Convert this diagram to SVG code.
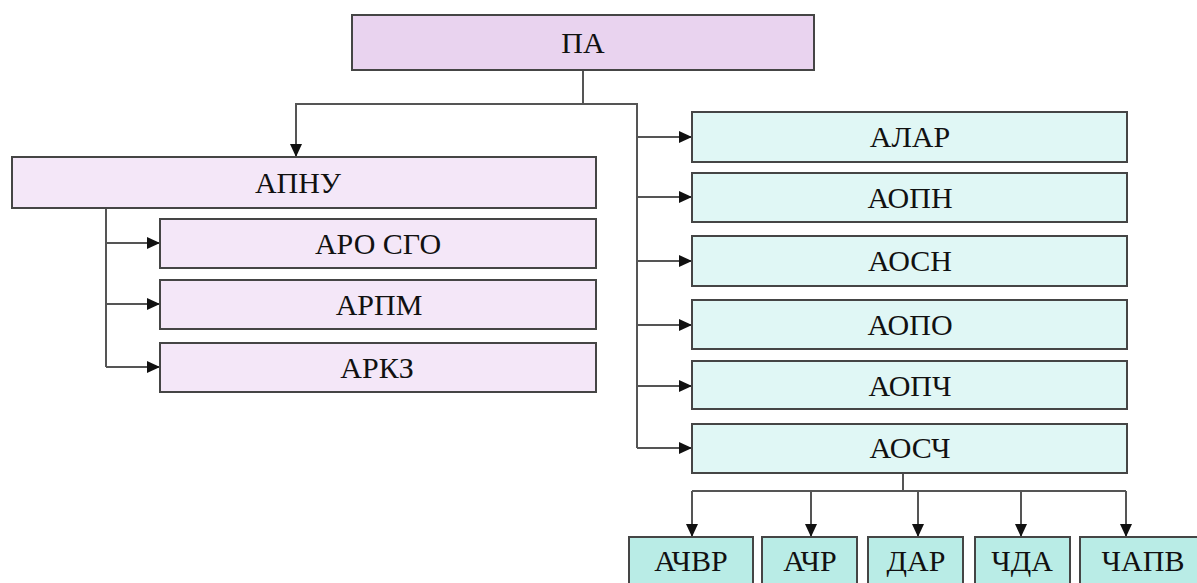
<svg xmlns="http://www.w3.org/2000/svg" width="1197" height="583" viewBox="0 0 1197 583">
  <defs>
    <marker id="arrow" markerWidth="14" markerHeight="12" refX="13" refY="6" orient="auto" markerUnits="userSpaceOnUse">
      <path d="M0,0 L13,6 L0,12 Z" fill="#111"/>
    </marker>
  </defs>
  <style>
    .box { stroke: #454545; stroke-width: 2; }
    .root { fill: #e9d3ef; }
    .lilac { fill: #f4e7f8; }
    .mint { fill: #e0f7f5; }
    .teal { fill: #b9ece6; }
    .wire { fill: none; stroke: #555; stroke-width: 2; }
  </style>
  <rect width="1197" height="583" fill="#ffffff"/>

  <!-- connectors -->
  <g id="connectors" class="wire">
    <path d="M583,70 V104 M295,104 H637 V448"/>
    <path d="M106,208 V367"/>
    <path d="M903,473 V491 M692,491 H1126"/>
    <g marker-end="url(#arrow)">
      <path d="M296,104 V157"/>
      <path d="M106,243 H160"/>
      <path d="M106,304 H160"/>
      <path d="M106,367 H160"/>
      <path d="M637,137 H692"/>
      <path d="M637,197 H692"/>
      <path d="M637,261 H692"/>
      <path d="M637,325 H692"/>
      <path d="M637,386 H692"/>
      <path d="M637,448 H692"/>
      <path d="M692,491 V537"/>
      <path d="M811,491 V537"/>
      <path d="M918,491 V537"/>
      <path d="M1021,491 V537"/>
      <path d="M1126,491 V537"/>
    </g>
  </g>

  <!-- nodes -->
  <g font-family="'Liberation Serif', 'Times New Roman', serif" font-size="30" text-anchor="middle">
    <g id="node-pa">
      <rect class="box root" x="352" y="15" width="462" height="55"/>
      <text x="583" y="53" fill="#111">ПА</text>
    </g>

    <g id="node-apnu">
      <rect class="box lilac" x="12" y="157" width="584" height="51"/>
      <text x="298" y="193" fill="#111">АПНУ</text>
    </g>
    <g id="node-aro-sgo">
      <rect class="box lilac" x="160" y="219" width="436" height="49"/>
      <text x="378" y="254" fill="#111">АРО СГО</text>
    </g>
    <g id="node-arpm">
      <rect class="box lilac" x="160" y="280" width="436" height="49"/>
      <text x="379" y="315" fill="#111">АРПМ</text>
    </g>
    <g id="node-arkz">
      <rect class="box lilac" x="160" y="343" width="436" height="49"/>
      <text x="377" y="378" fill="#111">АРКЗ</text>
    </g>

    <g id="node-alar">
      <rect class="box mint" x="692" y="112" width="435" height="50"/>
      <text x="910" y="147" fill="#111">АЛАР</text>
    </g>
    <g id="node-aopn">
      <rect class="box mint" x="692" y="173" width="435" height="49"/>
      <text x="910" y="208" fill="#111">АОПН</text>
    </g>
    <g id="node-aosn">
      <rect class="box mint" x="692" y="236" width="435" height="50"/>
      <text x="910" y="271" fill="#111">АОСН</text>
    </g>
    <g id="node-aopo">
      <rect class="box mint" x="692" y="300" width="435" height="49"/>
      <text x="910" y="335" fill="#111">АОПО</text>
    </g>
    <g id="node-aopch">
      <rect class="box mint" x="692" y="361" width="435" height="48"/>
      <text x="910" y="396" fill="#111">АОПЧ</text>
    </g>
    <g id="node-aosch">
      <rect class="box mint" x="692" y="424" width="435" height="49"/>
      <text x="910" y="458" fill="#111">АОСЧ</text>
    </g>

    <g id="node-achvr">
      <rect class="box teal" x="629" y="537" width="124" height="52"/>
      <text x="691" y="571" fill="#111">АЧВР</text>
    </g>
    <g id="node-achr">
      <rect class="box teal" x="762" y="537" width="95" height="52"/>
      <text x="810" y="571" fill="#111">АЧР</text>
    </g>
    <g id="node-dar">
      <rect class="box teal" x="868" y="537" width="95" height="52"/>
      <text x="916" y="571" fill="#111">ДАР</text>
    </g>
    <g id="node-chda">
      <rect class="box teal" x="975" y="537" width="95" height="52"/>
      <text x="1022" y="571" fill="#111">ЧДА</text>
    </g>
    <g id="node-chapv">
      <rect class="box teal" x="1080" y="537" width="126" height="52"/>
      <text x="1143" y="571" fill="#111">ЧАПВ</text>
    </g>
  </g>
</svg>
